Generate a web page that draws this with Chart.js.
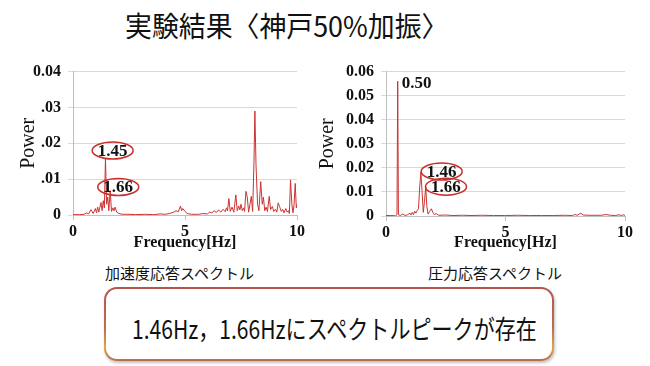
<!DOCTYPE html>
<html>
<head>
<meta charset="utf-8">
<script src="https://cdn.jsdelivr.net/npm/chart.js@4.4.6/dist/chart.umd.min.js"></script>
<style>
  body { margin: 0; background: #fff; width: 650px; height: 366px; overflow: hidden; position: relative; font-family: "Noto Sans CJK JP", sans-serif; }
  .abs { position: absolute; white-space: nowrap; }
  #title { left: 125px; top: 7px; font-size: 28px; line-height: 36px; color: #111; transform: scaleX(0.96); transform-origin: left; }
  .sub { top: 263px; font-size: 15px; line-height: 20px; color: #111; }
  #boxOuter { left: 104px; top: 287px; width: 450px; height: 74px; border-radius: 13px; padding: 2px; box-sizing: border-box;
    background: linear-gradient(180deg, #b4544c 0%, #c06a55 55%, #d9a845 82%, #b9694c 100%); box-shadow: 1px 2px 3px rgba(0,0,0,0.25); }
  #boxInner { width: 100%; height: 100%; background: #fff; border-radius: 11px; position: relative; }
  #boxText { left: 26px; top: 22px; font-size: 26px; line-height: 34px; color: #111; transform: scaleX(0.81); transform-origin: left; }
</style>
</head>
<body>
<div id="title" class="abs">実験結果〈神戸50%加振〉</div>
<canvas id="accel" class="abs" style="left:0;top:55px" width="310" height="200"></canvas>
<canvas id="press" class="abs" style="left:310px;top:55px" width="330" height="200"></canvas>
<div class="abs sub" style="left:105px">加速度応答スペクトル</div>
<div class="abs sub" style="left:428px">圧力応答スペクトル</div>
<div id="boxOuter" class="abs"><div id="boxInner"><div id="boxText" class="abs">1.46Hz，1.66Hzにスペクトルピークが存在</div></div></div>
<script>
// 加速度応答スペクトル
const freqA = [0, 0.3, 0.5, 0.6, 0.7, 0.8, 0.9, 1.0, 1.05, 1.1, 1.15, 1.25, 1.3, 1.35, 1.4, 1.45, 1.5, 1.55, 1.6, 1.66,
  1.72, 1.78, 1.83, 1.88, 1.95, 2.05, 2.2, 2.5, 2.8, 3.2, 3.6, 3.9, 4.1, 4.3, 4.5, 4.6, 4.7, 4.8, 4.85, 4.9,
  5.0, 5.1, 5.3, 5.6, 5.8, 6.0, 6.1, 6.2, 6.3, 6.4, 6.5, 6.6, 6.7, 6.8, 6.85, 6.9, 6.96, 7.02, 7.1, 7.18,
  7.27, 7.33, 7.4, 7.45, 7.5, 7.56, 7.62, 7.66, 7.72, 7.78, 7.84, 7.9, 7.96, 8.02, 8.08, 8.12, 8.17, 8.24, 8.3, 8.38,
  8.45, 8.5, 8.56, 8.62, 8.68, 8.76, 8.82, 8.9, 8.96, 9.04, 9.1, 9.16, 9.22, 9.3, 9.36, 9.42, 9.5, 9.56, 9.62, 9.66,
  9.71, 9.77, 9.82, 9.87, 9.92, 9.97, 10.0];
const powerA = [0.0001, 0.0001, 0.0002, 0.0006, 0.0003, 0.0015, 0.0004, 0.0018, 0.0006, 0.0022, 0.0008, 0.0035, 0.0012, 0.0040, 0.0020, 0.0158, 0.0030, 0.0050, 0.0012, 0.0068,
  0.0010, 0.0020, 0.0012, 0.0022, 0.0008, 0.0004, 0.0002, 0.0002, 0.0001, 0.0002, 0.0001, 0.0003, 0.0002, 0.0004, 0.0008, 0.0012, 0.0009, 0.0025, 0.0012, 0.0018,
  0.0010, 0.0004, 0.0002, 0.0002, 0.0004, 0.0003, 0.0008, 0.0006, 0.0012, 0.0007, 0.0014, 0.0008, 0.0016, 0.0009, 0.0020, 0.0012, 0.0046, 0.0010, 0.0022, 0.0008,
  0.0056, 0.0012, 0.0025, 0.0014, 0.0030, 0.0012, 0.0020, 0.0010, 0.0066, 0.0050, 0.0008, 0.0030, 0.0052, 0.0010, 0.0150, 0.0290, 0.0140, 0.0030, 0.0012, 0.0093,
  0.0030, 0.0050, 0.0012, 0.0022, 0.0010, 0.0052, 0.0015, 0.0024, 0.0010, 0.0016, 0.0008, 0.0034, 0.0024, 0.0010, 0.0016, 0.0006, 0.0018, 0.0008, 0.0012, 0.0004,
  0.0098, 0.0030, 0.0006, 0.0030, 0.0088, 0.0020, 0.0030];
const yTicksA = ["0", ".01", ".02", ".03", "0.04"];
const peakTextA = ["1.45", "1.66"];
const peakXA = [1.77, 2.02];
const peakYA = [0.0180, 0.0078];
const peakRingA = [true, true];

// 圧力応答スペクトル
const freqP = [0, 0.2, 0.4, 0.46, 0.49, 0.52, 0.6, 0.7, 0.8, 0.9, 1.0, 1.05, 1.1, 1.15, 1.2, 1.25, 1.3, 1.36, 1.41, 1.46,
  1.51, 1.56, 1.61, 1.66, 1.71, 1.76, 1.82, 1.9, 1.96, 2.02, 2.1, 2.2, 2.5, 2.8, 3.2, 3.6, 4.0, 4.5, 5.0, 5.5,
  6.0, 6.5, 7.0, 7.5, 7.8, 7.9, 8.0, 8.15, 8.25, 8.5, 9.0, 9.2, 9.4, 9.6, 9.75, 9.85, 9.95, 10.0];
const powerP = [0.0002, 0.0002, 0.0001, 0.0005, 0.0560, 0.0005, 0.0002, 0.0008, 0.0002, 0.0005, 0.0012, 0.0004, 0.0015, 0.0006, 0.0020, 0.0012, 0.0022, 0.0030, 0.0120, 0.0182,
  0.0100, 0.0015, 0.0060, 0.0122, 0.0040, 0.0008, 0.0018, 0.0030, 0.0015, 0.0006, 0.0010, 0.0003, 0.0004, 0.0002, 0.0003, 0.0002, 0.0003, 0.0002, 0.0002, 0.0003,
  0.0002, 0.0002, 0.0002, 0.0003, 0.0002, 0.0006, 0.0003, 0.0012, 0.0004, 0.0003, 0.0003, 0.0006, 0.0003, 0.0002, 0.0005, 0.0002, 0.0005, 0.0002];
const yTicksP = ["0", "0.01", "0.02", "0.03", "0.04", "0.05", "0.06"];
const peakTextP = ["0.50", "1.46", "1.66"];
const peakXP = [1.28, 2.33, 2.51];
const peakYP = [0.0554, 0.0185, 0.0122];
const peakRingP = [false, true, true];

const xTicks = [0, 5, 10];

const serif = "'Liberation Serif', 'DejaVu Serif', serif";

const peakLabels = {
  id: "peakLabels",
  afterDatasetsDraw(chart, args, opts) {
    const { ctx, scales } = chart;
    ctx.save();
    ctx.font = "bold 17px " + serif;
    ctx.textAlign = "center";
    ctx.textBaseline = "middle";
    opts.text.forEach((t, i) => {
      const px = scales.x.getPixelForValue(opts.xs[i]);
      const py = scales.y.getPixelForValue(opts.ys[i]);
      ctx.fillStyle = "#111";
      ctx.fillText(t, px, py + 1);
      if (opts.ring[i]) {
        ctx.beginPath();
        ctx.ellipse(px, py, 20.5, 8.5, 0, 0, Math.PI * 2);
        ctx.strokeStyle = "#c8302c";
        ctx.lineWidth = 1.5;
        ctx.stroke();
      }
    });
    ctx.restore();
  }
};

function spectrum(canvasId, freq, power, yMax, yLabels, axisW, pad, peaks, yTitlePad) {
  return new Chart(document.getElementById(canvasId), {
    type: "line",
    data: {
      datasets: [{
        data: freq.map((f, i) => ({ x: f, y: power[i] })),
        borderColor: "#cc3333",
        borderWidth: 1,
        pointRadius: 0,
        tension: 0
      }]
    },
    plugins: [peakLabels],
    options: {
      responsive: false,
      animation: false,
      devicePixelRatio: 1,
      layout: { padding: pad },
      plugins: { legend: { display: false }, tooltip: { enabled: false }, peakLabels: peaks },
      scales: {
        x: {
          type: "linear", min: 0, max: 10,
          afterBuildTicks: s => { s.ticks = xTicks.map(v => ({ value: v })); },
          afterFit: s => { s.height = 200 - pad.top - (pad.plotH); },
          grid: { drawOnChartArea: false, color: "#bfbfbf", tickLength: 5 },
          border: { color: "#bfbfbf" },
          ticks: { color: "#111", font: { family: serif, size: 16, weight: "bold" }, padding: 2, maxRotation: 0 },
          title: { display: true, text: "Frequency[Hz]", color: "#111", font: { family: serif, size: 16, weight: "bold" }, padding: { top: 0, bottom: 3 } }
        },
        y: {
          min: 0, max: yMax,
          ticks: { stepSize: 0.01, color: "#111", font: { family: serif, size: 16, weight: "bold" }, padding: 7,
            callback: (v, i) => yLabels[i] },
          afterFit: s => { s.width = axisW; },
          grid: { color: "#d9d9d9", tickLength: 5 },
          border: { color: "#bfbfbf" },
          title: { display: true, text: "Power", color: "#111", font: { family: serif, size: 20 }, padding: { top: yTitlePad, bottom: 0 } }
        }
      }
    }
  });
}

spectrum("accel", freqA, powerA, 0.04, yTicksA, 73, { top: 11, right: 13, left: 0, bottom: 0, plotH: 149 },
  { text: peakTextA, xs: peakXA, ys: peakYA, ring: peakRingA }, 17);
spectrum("press", freqP, powerP, 0.06, yTicksP, 76, { top: 10, right: 15, left: 0, bottom: 0, plotH: 151 },
  { text: peakTextP, xs: peakXP, ys: peakYP, ring: peakRingP }, 6);
</script>
</body>
</html>
